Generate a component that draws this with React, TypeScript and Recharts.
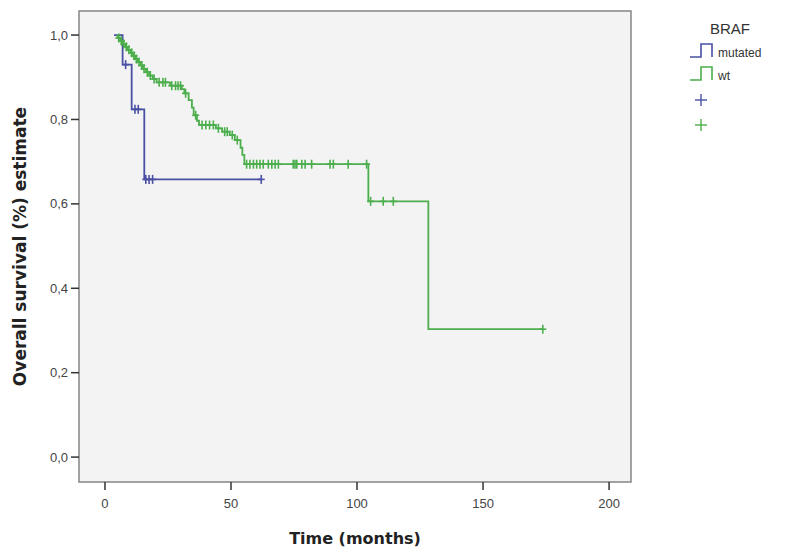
import {
  ComposedChart,
  Line,
  XAxis,
  YAxis,
  ReferenceArea
} from "recharts";

// Kaplan-Meier curves by BRAF status
const mutatedStart = 3.6;
const mutatedEventTimes = [7.0, 10.6, 15.6];
const mutatedEventSurv = [0.93, 0.824, 0.658];
const mutatedCensorTimes = [8.2, 11.9, 13.2, 16.2, 17.5, 18.9, 62];

const wtStart = 4.8;
const wtEventTimes = [
  5.0, 6.0, 7.0, 8.0, 9.0, 10.2, 11.0, 12.0, 13.0, 14.2, 15.0, 16.3, 17.5, 19.0, 20.5,
  25.8, 30.5, 31.5, 33.2, 34.5, 35.2, 36.5, 37.3, 44.0, 46.5, 49.5, 51.5, 53.8, 54.5,
  55.3, 104.5, 128.3
];
const wtEventSurv = [
  0.993, 0.986, 0.979, 0.972, 0.965, 0.958, 0.951, 0.943, 0.936, 0.928, 0.92, 0.912,
  0.904, 0.896, 0.888, 0.88, 0.872, 0.862, 0.846, 0.828, 0.81, 0.797, 0.787, 0.779,
  0.771, 0.763, 0.751, 0.733, 0.716, 0.694, 0.606, 0.303
];
const wtCensorTimes = [
  5.5, 6.5, 7.5, 8.5, 9.5, 10.6, 11.5, 12.5, 13.5, 14.6, 15.5, 16.8, 18.0, 19.5, 21.5,
  23.0, 24.0, 26.5, 28.0, 29.0, 30.0, 32.0, 36.0, 38.5, 40.0, 41.5, 43.0, 45.0, 47.5,
  48.5, 50.5, 52.5, 56.2, 57.5, 58.9, 60.2, 61.5, 62.8, 64.8, 66.2, 67.5, 68.8, 74.7,
  75.4, 76.1, 78.1, 79.4, 82.0, 89.3, 90.6, 96.5, 103.8, 105.4, 110.4, 114.4, 173.7
];

const xTicks = [0, 50, 100, 150, 200];
const yTicks = [0, 0.2, 0.4, 0.6, 0.8, 1.0];

const BLUE = "#4a50a3";
const GREEN = "#4cae4c";
const SANS = "Liberation Sans, Arial, sans-serif";

const X_DOMAIN: [number, number] = [-10.3, 208.7];
const Y_DOMAIN: [number, number] = [-0.059, 1.057];

interface KmPoint {
  t: number;
  s: number;
  censored: boolean;
}

function buildCurve(start: number, times: number[], surv: number[], censors: number[]): KmPoint[] {
  const pts: KmPoint[] = [{ t: start, s: 1, censored: false }];
  times.forEach((t, i) => pts.push({ t, s: surv[i], censored: false }));
  censors.forEach((t) => {
    let s = 1;
    times.forEach((et, i) => {
      if (et <= t) s = surv[i];
    });
    pts.push({ t, s, censored: true });
  });
  return pts.sort((a, b) => a.t - b.t || (a.censored ? 1 : -1));
}

const mutatedData = buildCurve(mutatedStart, mutatedEventTimes, mutatedEventSurv, mutatedCensorTimes);
const wtData = buildCurve(wtStart, wtEventTimes, wtEventSurv, wtCensorTimes);

const fmt = (v: number) => v.toFixed(1).replace(".", ",");

function censorDot(color: string) {
  return (props: any) => {
    const { cx, cy, payload, index } = props;
    if (!payload?.censored || cx == null) return <g key={`n-${index}`} />;
    return (
      <g key={`c-${index}`} stroke={color} strokeWidth={1.6}>
        <line x1={cx} y1={cy - 4.5} x2={cx} y2={cy + 4.5} />
        <line x1={cx - 3.5} y1={cy} x2={cx + 3.5} y2={cy} />
      </g>
    );
  };
}

function StepGlyph({ x, y, color }: { x: number; y: number; color: string }) {
  return (
    <path
      d={`M${x},${y + 13} H${x + 11} V${y} H${x + 22} V${y + 13}`}
      fill="none"
      stroke={color}
      strokeWidth={1.6}
    />
  );
}

function Cross({ x, y, color }: { x: number; y: number; color: string }) {
  return (
    <g stroke={color} strokeWidth={1.4}>
      <line x1={x} y1={y - 6} x2={x} y2={y + 6} />
      <line x1={x - 6} y1={y} x2={x + 6} y2={y} />
    </g>
  );
}

function BrafLegend() {
  return (
    <svg
      width={110}
      height={140}
      style={{ position: "absolute", left: 690, top: 8, overflow: "visible" }}
    >
      <text x={40} y={26} textAnchor="middle" fontSize={15} fill="#333" fontFamily={SANS}>
        BRAF
      </text>
      <StepGlyph x={0} y={36} color={BLUE} />
      <text x={28} y={49} fontSize={12} fill="#333" fontFamily={SANS}>
        mutated
      </text>
      <StepGlyph x={0} y={59} color={GREEN} />
      <text x={28} y={72} fontSize={12} fill="#333" fontFamily={SANS}>
        wt
      </text>
      <Cross x={11} y={92} color={BLUE} />
      <Cross x={11} y={117} color={GREEN} />
    </svg>
  );
}

export default function App() {
  return (
    <div style={{ position: "absolute", left: 0, top: 0, width: 786, height: 556, background: "#fff" }}>
      <ComposedChart
        width={786}
        height={556}
        margin={{ top: 11, right: 155, bottom: 34, left: 19 }}
        style={{ fontFamily: SANS }}
      >
        <XAxis
          type="number"
          dataKey="t"
          domain={X_DOMAIN}
          allowDataOverflow
          ticks={xTicks}
          axisLine={false}
          tickSize={8}
          tickMargin={9}
          height={40}
          tickLine={{ stroke: "#333", strokeWidth: 1.5 }}
          tick={{ fill: "#444", fontSize: 13 }}
          label={{
            content: ({ viewBox }: any) => (
              <text
                x={viewBox.x + viewBox.width / 2}
                y={544}
                textAnchor="middle"
                fontSize={16}
                fontWeight="bold"
                fill="#222"
                fontFamily="DejaVu Sans, sans-serif"
              >
                Time (months)
              </text>
            )
          }}
        />
        <YAxis
          type="number"
          dataKey="s"
          domain={Y_DOMAIN}
          allowDataOverflow
          ticks={yTicks}
          tickFormatter={fmt}
          axisLine={false}
          width={60}
          tickSize={8}
          tickMargin={3}
          tickLine={{ stroke: "#333", strokeWidth: 1.5 }}
          tick={{ fill: "#444", fontSize: 13 }}
          label={{
            content: ({ viewBox }: any) => {
              const cy = viewBox.y + viewBox.height / 2;
              return (
                <text
                  x={26}
                  y={cy}
                  transform={`rotate(-90, 26, ${cy})`}
                  textAnchor="middle"
                  fontSize={17}
                  fontWeight="bold"
                  fill="#222"
                  fontFamily="DejaVu Sans, sans-serif"
                >
                  Overall survival (%) estimate
                </text>
              );
            }
          }}
        />
        <ReferenceArea
          x1={X_DOMAIN[0]}
          x2={X_DOMAIN[1]}
          y1={Y_DOMAIN[0]}
          y2={Y_DOMAIN[1]}
          fill="#f3f3f3"
          fillOpacity={1}
          stroke="#858585"
          strokeWidth={1.5}
        />
        <Line
          data={mutatedData}
          dataKey="s"
          type="stepAfter"
          stroke={BLUE}
          strokeWidth={1.8}
          dot={censorDot(BLUE)}
          activeDot={false}
          isAnimationActive={false}
        />
        <Line
          data={wtData}
          dataKey="s"
          type="stepAfter"
          stroke={GREEN}
          strokeWidth={1.8}
          dot={censorDot(GREEN)}
          activeDot={false}
          isAnimationActive={false}
        />
      </ComposedChart>
      <BrafLegend />
    </div>
  );
}
